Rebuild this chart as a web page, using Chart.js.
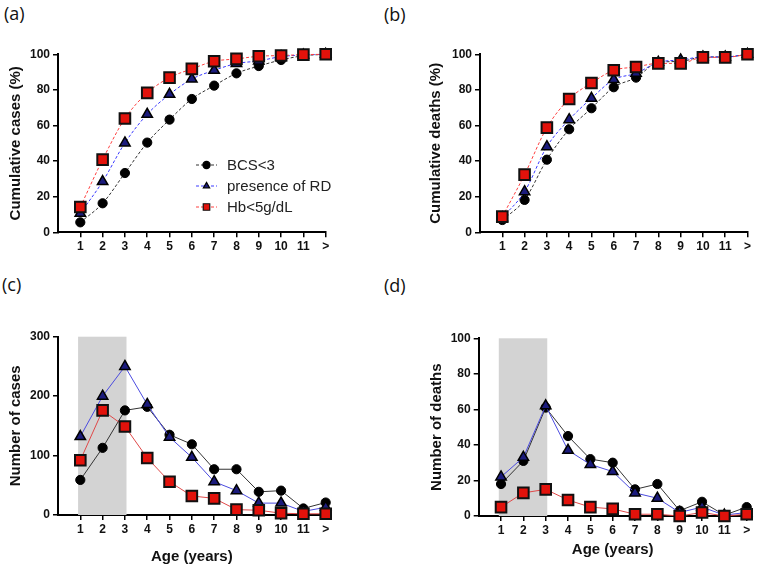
<!DOCTYPE html>
<html>
<head>
<meta charset="utf-8">
<title>Cumulative and absolute cases / deaths by age</title>
<script src="https://cdn.jsdelivr.net/npm/chart.js@4.4.1/dist/chart.umd.min.js"></script>
<style>
    body { margin: 0; background: #fff; }
    #wrap { position: relative; width: 757px; height: 569px; overflow: hidden; }
    canvas { position: absolute; }
    .panel-tag { position: absolute; font-family: "Open Sans", "Noto Sans", sans-serif; font-size: 18px; color: #111; }
</style>
</head>
<body>
<div id="wrap">
    <div class="panel-tag" style="left:4px; top:1px;">(a)</div>
    <div class="panel-tag" style="left:384px; top:2px;">(b)</div>
    <div class="panel-tag" style="left:2px; top:272px;">(c)</div>
    <div class="panel-tag" style="left:384px; top:273px;">(d)</div>
    <canvas id="chartA" width="378" height="265" style="left:0; top:0;"></canvas>
    <canvas id="chartB" width="379" height="265" style="left:378px; top:0;"></canvas>
    <canvas id="chartC" width="378" height="304" style="left:0; top:265px;"></canvas>
    <canvas id="chartD" width="379" height="304" style="left:378px; top:265px;"></canvas>
</div>
<script>
// Age groups on the x axis
const ageLabels = ['1', '2', '3', '4', '5', '6', '7', '8', '9', '10', '11', '>'];
const seriesNames = ['BCS<3', 'presence of RD', 'Hb<5g/dL'];

// (a) cumulative cases (%)
const cumCasesBCS = [5.6, 16.3, 33.3, 50.4, 63.3, 74.9, 82.4, 89.3, 93.4, 96.8, 99.2, 100];
const cumCasesRD  = [10.7, 28.5, 50.2, 66.3, 77.5, 86.1, 91.0, 94.8, 96.3, 98.7, 99.6, 100];
const cumCasesHb  = [14.2, 40.8, 63.9, 78.3, 86.9, 91.8, 96.1, 97.4, 98.9, 99.3, 99.8, 100];

// (b) cumulative deaths (%)
const cumDeathsBCS = [6.9, 18.2, 40.8, 57.9, 69.7, 81.5, 86.9, 95.5, 96.0, 98.5, 98.5, 100];
const cumDeathsRD  = [8.2, 22.8, 48.1, 63.3, 75.3, 85.8, 89.3, 95.5, 96.8, 98.5, 98.5, 100];
const cumDeathsHb  = [8.8, 32.4, 58.8, 74.9, 83.9, 91.0, 92.9, 94.9, 94.9, 98.3, 98.3, 100];

// (c) number of cases
const casesBCS = [59, 113, 176, 182, 135, 119, 77, 77, 39, 41, 11, 21];
const casesRD  = [132, 200, 250, 186, 131, 97, 56, 41, 20, 20, 6, 13];
const casesHb  = [92, 176, 149, 96, 56, 32, 28, 9, 8, 3, 2, 2];

// (d) number of deaths
const deathsBCS = [18, 31, 61, 45, 32, 30, 15, 18, 3, 8, 0.5, 5];
const deathsRD  = [22, 33, 62, 37, 29, 25, 13, 10, 2, 5, 0.5, 2];
const deathsHb  = [5, 13, 15, 9, 5, 4, 1, 1, 0, 2, 0, 1];

// Shaded age band in (c) and (d)
const peakBand = [1, 3];

document.addEventListener('DOMContentLoaded', function() {
    const FONT = '"Liberation Sans", Arial, sans-serif';

    // marker looks shared by all four panels
    const markers = [
        { pointStyle: 'circle',   radius: 4.6, fill: '#000',    border: '#000', bw: 1 },
        { pointStyle: 'triangle', radius: 6,   fill: '#1b1b7c', border: '#000', bw: 1.5 },
        { pointStyle: 'rect',     radius: 7.5, fill: '#e3120b', border: '#111', bw: 2 }
    ];
    const dashedColors = ['#333333', '#3a3aff', '#ff4040'];
    const solidColors = ['#333333', '#4b4be0', '#e04848'];

    function toPoints(values) {
        return values.map((v, i) => ({ x: i + 1, y: v }));
    }

    function buildDatasets(seriesList, cumulative) {
        return seriesList.map((values, i) => ({
            label: seriesNames[i],
            data: toPoints(values),
            borderColor: cumulative ? dashedColors[i] : solidColors[i],
            borderWidth: 1,
            borderDash: cumulative ? [3, 2] : [],
            cubicInterpolationMode: cumulative ? 'monotone' : 'default',
            pointStyle: markers[i].pointStyle,
            pointRadius: markers[i].radius,
            pointBackgroundColor: markers[i].fill,
            pointBorderColor: markers[i].border,
            pointBorderWidth: markers[i].bw,
            order: 3 - i,
            clip: false
        }));
    }

    // grey background band behind the lines
    const bandPlugin = {
        id: 'band',
        beforeDatasetsDraw(chart, args, opts) {
            if (!opts.show) return;
            const { ctx, scales } = chart;
            const x0 = scales.x.getPixelForValue(peakBand[0] - 0.1);
            const x1 = scales.x.getPixelForValue(peakBand[1] + 0.07);
            const yTop = scales.y.getPixelForValue(scales.y.max);
            const yBot = scales.y.getPixelForValue(0);
            ctx.save();
            ctx.fillStyle = '#d3d3d3';
            ctx.fillRect(x0, yTop, x1 - x0, yBot - yTop);
            ctx.restore();
        }
    };

    function drawMarker(ctx, style, x, y, r) {
        ctx.beginPath();
        if (style === 'circle') {
            ctx.arc(x, y, r, 0, Math.PI * 2);
        } else if (style === 'triangle') {
            ctx.moveTo(x, y - r);
            ctx.lineTo(x + r * 0.866, y + r * 0.5);
            ctx.lineTo(x - r * 0.866, y + r * 0.5);
            ctx.closePath();
        } else {
            const s = r * Math.SQRT1_2;
            ctx.rect(x - s, y - s, 2 * s, 2 * s);
        }
        ctx.fill();
        ctx.stroke();
    }

    // legend inside the plot of panel (a)
    const insideLegend = {
        id: 'insideLegend',
        afterDraw(chart, args, opts) {
            if (!opts.show) return;
            const ctx = chart.ctx;
            const rows = [165, 186, 207];
            ctx.save();
            seriesNames.forEach((name, i) => {
                const y = rows[i];
                ctx.strokeStyle = dashedColors[i];
                ctx.lineWidth = 1;
                ctx.setLineDash([3, 2]);
                ctx.beginPath();
                ctx.moveTo(196, y);
                ctx.lineTo(217, y);
                ctx.stroke();
                ctx.setLineDash([]);
                ctx.fillStyle = markers[i].fill;
                ctx.strokeStyle = markers[i].border;
                ctx.lineWidth = 1.2;
                drawMarker(ctx, markers[i].pointStyle, 206.5, y, i === 2 ? 4.6 : 3.6);
                ctx.fillStyle = '#222';
                ctx.font = '15px ' + FONT;
                ctx.textBaseline = 'middle';
                ctx.fillText(name, 227, y + 1);
            });
            ctx.restore();
        }
    };

    function makePanel(canvasId, p) {
        const ctx = document.getElementById(canvasId).getContext('2d');
        return new Chart(ctx, {
            type: 'line',
            data: { datasets: buildDatasets(p.series, p.cumulative) },
            plugins: [bandPlugin, insideLegend],
            options: {
                responsive: false,
                animation: false,
                devicePixelRatio: 1,
                layout: { padding: p.padding },
                plugins: {
                    legend: { display: false },
                    tooltip: { enabled: false },
                    band: { show: !p.cumulative },
                    insideLegend: { show: !!p.legend }
                },
                scales: {
                    x: {
                        type: 'linear',
                        min: 0,
                        max: ageLabels.length,
                        afterBuildTicks: s => { s.ticks = ageLabels.map((l, i) => ({ value: i + 1 })); },
                        afterFit: s => { s.height = p.xHeight; },
                        ticks: {
                            autoSkip: false,
                            maxRotation: 0,
                            padding: 2,
                            color: '#111',
                            font: { family: FONT, size: 12, weight: 'bold' },
                            callback: (v) => ageLabels[v - 1]
                        },
                        grid: { drawOnChartArea: false, drawTicks: true, tickLength: 5, color: '#000', lineWidth: 1.5 },
                        border: { display: true, color: '#000', width: 2 },
                        title: {
                            display: !!p.xTitle,
                            text: p.xTitle || '',
                            color: '#111',
                            font: { family: FONT, size: 15, weight: 'bold' },
                            padding: { top: 0, bottom: p.xTitlePad || 0 }
                        }
                    },
                    y: {
                        min: 0,
                        max: p.yMax,
                        afterFit: s => { s.width = p.yWidth; },
                        ticks: {
                            stepSize: p.yStep,
                            padding: 3,
                            color: '#111',
                            font: { family: FONT, size: 12, weight: 'bold' }
                        },
                        grid: { drawOnChartArea: false, drawTicks: true, tickLength: 5, color: '#000', lineWidth: 1.5 },
                        border: { display: true, color: '#000', width: 2 },
                        title: {
                            display: true,
                            text: p.yTitle,
                            color: '#111',
                            font: { family: FONT, size: 15, weight: 'bold' },
                            padding: { top: p.yTitlePad, bottom: 0 }
                        }
                    }
                }
            }
        });
    }

    makePanel('chartA', {
        series: [cumCasesBCS, cumCasesRD, cumCasesHb], cumulative: true, legend: true,
        yMax: 100, yStep: 20, yTitle: 'Cumulative cases (%)', yTitlePad: 7,
        padding: { left: 0, right: 52.3, top: 54.3, bottom: 0 }, yWidth: 58, xHeight: 32.7
    });
    makePanel('chartB', {
        series: [cumDeathsBCS, cumDeathsRD, cumDeathsHb], cumulative: true,
        yMax: 100, yStep: 20, yTitle: 'Cumulative deaths (%)', yTitlePad: 48.7,
        padding: { left: 0, right: 9.3, top: 54.3, bottom: 0 }, yWidth: 102, xHeight: 32.7
    });
    makePanel('chartC', {
        series: [casesBCS, casesRD, casesHb], cumulative: false,
        yMax: 300, yStep: 100, yTitle: 'Number of cases', yTitlePad: 7,
        xTitle: 'Age (years)', xTitlePad: 3,
        padding: { left: 0, right: 52.3, top: 71.7, bottom: 0 }, yWidth: 58, xHeight: 54
    });
    makePanel('chartD', {
        series: [deathsBCS, deathsRD, deathsHb], cumulative: false,
        yMax: 100, yStep: 20, yTitle: 'Number of deaths', yTitlePad: 49.7,
        xTitle: 'Age (years)', xTitlePad: 10,
        padding: { left: 0, right: 10.3, top: 73.3, bottom: 0 }, yWidth: 100.7, xHeight: 53
    });
});
</script>
</body>
</html>
